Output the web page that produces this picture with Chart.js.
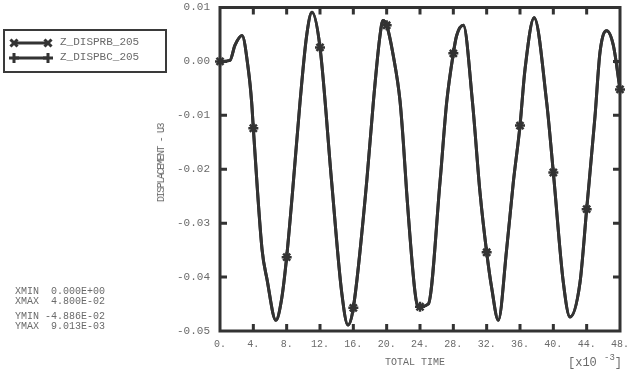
<!DOCTYPE html>
<html>
<head>
<meta charset="utf-8">
<script src="https://cdn.jsdelivr.net/npm/chart.js@4.4.1/dist/chart.umd.min.js"></script>
<style>
    body { margin: 0; background: #fff; }
    #wrap { position: relative; width: 630px; height: 373px; overflow: hidden; }
    #plot { position: absolute; left: 0; top: 0; }
    .txt {
        position: absolute;
        font-family: "Liberation Mono", "DejaVu Sans Mono", monospace;
        color: #6a6a6a;
        white-space: pre;
        line-height: 1;
    }
    #legendBox {
        position: absolute; left: 3px; top: 29px;
        width: 160px; height: 40px;
        border: 2px solid #3a3a3a;
    }
</style>
</head>
<body>
<div id="wrap">
    <canvas id="plot" width="630" height="373"></canvas>
    <div id="legendBox"></div>
    <div class="txt" style="left:60px; top:37px; font-size:11px;">Z_DISPRB_205</div>
    <div class="txt" style="left:60px; top:52px; font-size:11px;">Z_DISPBC_205</div>

    <div class="txt" style="left:15px; top:287px; font-size:10px;">XMIN  0.000E+00</div>
    <div class="txt" style="left:15px; top:297px; font-size:10px;">XMAX  4.800E-02</div>
    <div class="txt" style="left:15px; top:312px; font-size:10px;">YMIN -4.886E-02</div>
    <div class="txt" style="left:15px; top:322px; font-size:10px;">YMAX  9.013E-03</div>

    <div class="txt" style="left:162px; top:163px; font-size:10px; letter-spacing:-1.4px; transform:translate(-50%,-50%) rotate(-90deg);">DISPLACEMENT - U3</div>
    <div class="txt" style="left:415px; top:363px; font-size:10px; transform:translate(-50%,-50%);">TOTAL TIME</div>
    <div class="txt" style="left:568px; top:357px; font-size:12px;">[x10 <span style="font-size:9px; position:relative; top:-6px;">-3</span>]</div>
</div>

<script>
// total time in ms (axis shows [x10^-3])
const timeMs = [0, 1.2, 1.8, 2.64, 3.4, 3.8, 4, 5.04, 5.64, 6.7, 7.4, 8, 8.7, 9.6, 10.4, 11.04,
    12, 13.4, 14.6, 15.36, 16, 17.6, 18.4, 19.2, 19.56, 20, 20.8, 21.6, 22, 22.4, 23.4, 23.8, 24,
    25, 26.4, 27.2, 28, 28.4, 29.2, 30.3, 31.2, 32, 32.6, 33.4, 34.4, 35.2, 36, 36.6, 37.7,
    39.2, 40, 41.2, 42, 43.2, 44, 45, 45.6, 46.4, 47.2, 48];

// displacement U3
const dispRB = [0, 0.0002, 0.003, 0.0048, -0.0015, -0.0076, -0.0124, -0.0348, -0.0404, -0.048, -0.044, -0.0363, -0.0243, -0.0076, 0.0048, 0.0091,
    0.0026, -0.0224, -0.0428, -0.0489, -0.0457, -0.0224, -0.0076, 0.0048, 0.0076, 0.0067, 0.001, -0.0073, -0.015, -0.0243, -0.0428, -0.0457, -0.0455,
    -0.045, -0.0224, -0.0076, 0.0015, 0.0048, 0.0067, -0.0076, -0.0243, -0.0354, -0.042, -0.048, -0.0348, -0.0224, -0.0119, -0.0015, 0.0081,
    -0.0076, -0.0206, -0.041, -0.0474, -0.041, -0.0274, -0.0102, 0.0017, 0.0057, 0.003, -0.0052];

// second curve lies on top of the first one
const dispBC = dispRB.slice();

// times where the symbols are plotted
const markerTimes = [0, 4, 8, 12, 16, 20, 24, 28, 32, 36, 40, 44, 48];

const seriesNames = ['Z_DISPRB_205', 'Z_DISPBC_205'];
const seriesStyles = ['crossRot', 'cross'];

const lineColor = '#333333';
const tickColor = '#6a6a6a';

function toPoints(values) {
    return timeMs.map((t, i) => ({ x: t, y: values[i] }));
}

function markerRadius(ctx) {
    return ctx.raw && markerTimes.includes(ctx.raw.x) ? 5 : 0;
}

// frame with inward tick marks on all four sides + legend symbols
const framePlugin = {
    id: 'frame',
    beforeDatasetsDraw(chart) {
        const { ctx, chartArea: a, scales } = chart;
        ctx.save();
        ctx.strokeStyle = lineColor;
        ctx.lineWidth = 3;
        ctx.strokeRect(a.left, a.top, a.right - a.left, a.bottom - a.top);
        ctx.beginPath();
        scales.x.ticks.forEach(t => {
            const px = scales.x.getPixelForValue(t.value);
            if (px < a.left + 2 || px > a.right - 2) return;
            ctx.moveTo(px, a.bottom); ctx.lineTo(px, a.bottom - 7);
            ctx.moveTo(px, a.top); ctx.lineTo(px, a.top + 7);
        });
        scales.y.ticks.forEach(t => {
            const py = scales.y.getPixelForValue(t.value);
            if (py < a.top + 2 || py > a.bottom - 2) return;
            ctx.moveTo(a.left, py); ctx.lineTo(a.left + 7, py);
            ctx.moveTo(a.right, py); ctx.lineTo(a.right - 7, py);
        });
        ctx.stroke();
        ctx.restore();
    },
    afterDraw(chart) {
        const ctx = chart.ctx;
        const rows = [43, 58];
        ctx.save();
        rows.forEach((y, i) => {
            ctx.strokeStyle = lineColor;
            ctx.fillStyle = lineColor;
            ctx.lineWidth = 3;
            ctx.beginPath();
            ctx.moveTo(14, y);
            ctx.lineTo(48, y);
            ctx.stroke();
            [14, 48].forEach(x => {
                Chart.helpers.drawPoint(ctx, {
                    pointStyle: seriesStyles[i], radius: 5, borderWidth: 2.5
                }, x, y);
            });
        });
        ctx.restore();
    }
};

document.addEventListener('DOMContentLoaded', function() {
    const ctx = document.getElementById('plot').getContext('2d');
    new Chart(ctx, {
        type: 'line',
        data: {
            datasets: seriesNames.map((name, i) => ({
                label: name,
                data: toPoints(i === 0 ? dispRB : dispBC),
                borderColor: lineColor,
                backgroundColor: lineColor,
                borderWidth: 3,
                cubicInterpolationMode: 'monotone',
                pointStyle: seriesStyles[i],
                pointRadius: markerRadius,
                pointBorderWidth: 2.5,
                pointBorderColor: lineColor,
                clip: false,
                fill: false
            }))
        },
        options: {
            responsive: false,
            animation: false,
            devicePixelRatio: 1,
            events: [],
            layout: {
                padding: { left: 140, top: 5, right: 10, bottom: 0 }
            },
            plugins: {
                legend: { display: false },
                tooltip: { enabled: false }
            },
            scales: {
                x: {
                    type: 'linear',
                    min: 0,
                    max: 48,
                    // fixed band under the plot, no extra side padding
                    afterFit: s => { s.height = 42; s.paddingLeft = 0; s.paddingRight = 0; },
                    grid: { display: false, drawTicks: false },
                    border: { display: false },
                    ticks: {
                        stepSize: 4,
                        padding: 7,
                        color: tickColor,
                        maxRotation: 0,
                        autoSkip: false,
                        font: { family: 'Liberation Mono', size: 10 },
                        callback: v => v + '.'
                    }
                },
                y: {
                    min: -0.05,
                    max: 0.01,
                    afterFit: s => { s.width = 80; s.paddingTop = 0; s.paddingBottom = 0; },
                    grid: { display: false, drawTicks: false },
                    border: { display: false },
                    ticks: {
                        stepSize: 0.01,
                        padding: 10,
                        color: tickColor,
                        // small line height so the top label doesn't push the plot down
                        font: { family: 'Liberation Mono', size: 11, lineHeight: 0.5 },
                        callback: v => (Math.abs(v) < 1e-9 ? 0 : v).toFixed(2)
                    }
                }
            }
        },
        plugins: [framePlugin]
    });
});
</script>
</body>
</html>
